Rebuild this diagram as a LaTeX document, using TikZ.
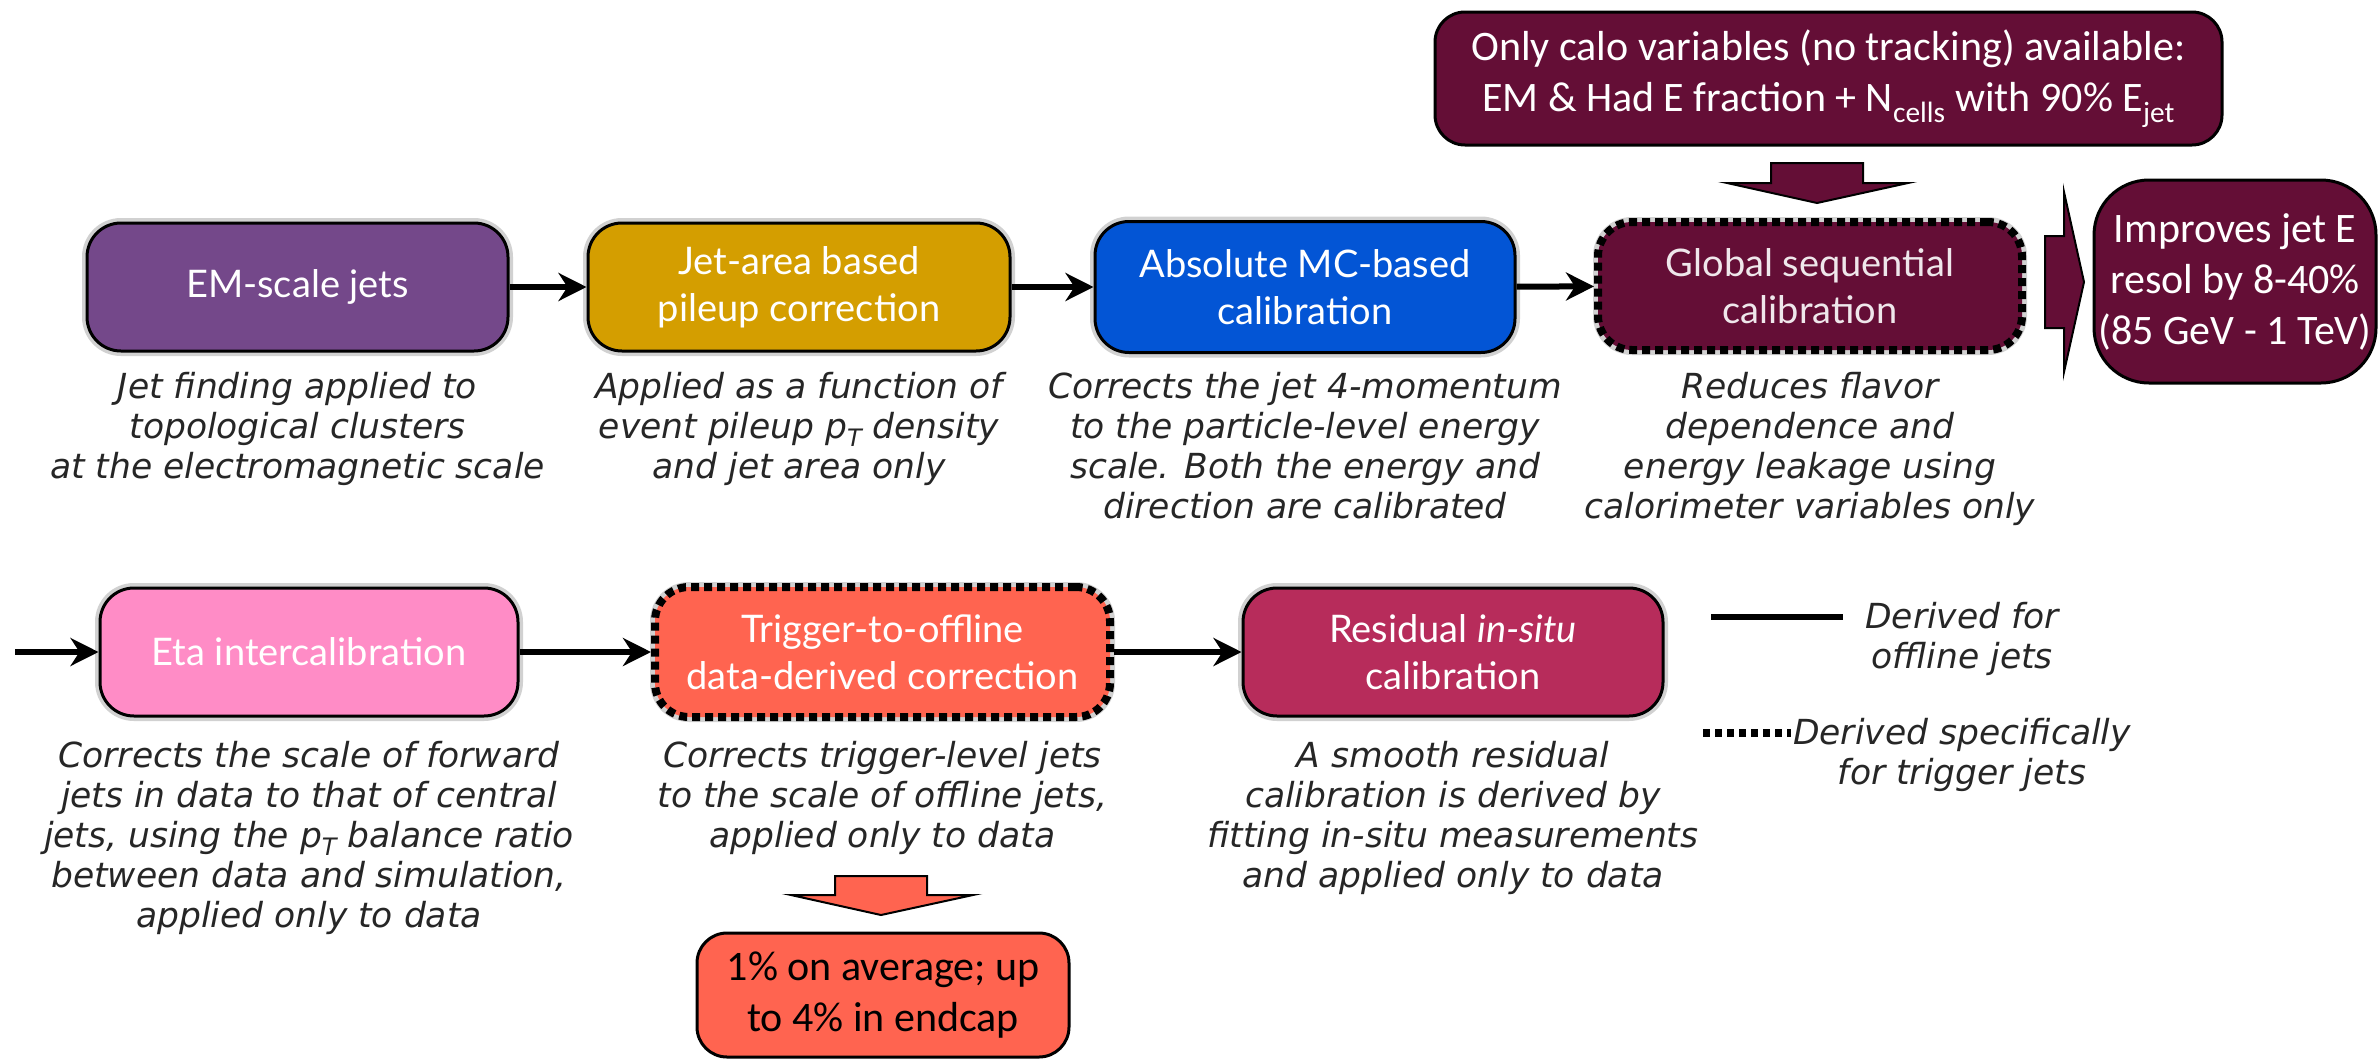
\documentclass[tikz,border=0pt]{standalone}
\usepackage{fontspec}
\setmainfont{Lato}
\newfontfamily\descfont{DejaVu Sans}
\newfontfamily\califont{Carlito}
\usetikzlibrary{arrows.meta}
\definecolor{emc}{RGB}{116,72,138}
\definecolor{jac}{RGB}{212,158,0}
\definecolor{absc}{RGB}{3,85,213}
\definecolor{gscc}{RGB}{100,14,54}
\definecolor{etac}{RGB}{255,140,198}
\definecolor{trigc}{RGB}{255,100,80}
\definecolor{resc}{RGB}{183,44,91}
\definecolor{desccol}{RGB}{38,38,38}
\newcommand\pTsym{p\raisebox{-0.22em}{\fontsize{24}{24}\selectfont T}}
\begin{document}
\begin{tikzpicture}[x=1pt,y=-1pt,
  stagebox/.style={draw=black, line width=3pt, rounded corners=34pt,
    minimum width=420pt, minimum height=128pt, inner sep=0pt, align=center,
    text=white, font=\fontsize{38}{47}\selectfont,
    preaction={draw=black, solid, opacity=0.18, line width=10pt}},
  dotbox/.style={stagebox, line width=8pt, dash pattern=on 8pt off 5pt},
  desc/.style={font=\descfont\itshape\fontsize{34.5}{40}\selectfont, text=desccol,
    align=center, anchor=north, inner sep=0pt},
  callout/.style={draw=black, line width=3pt, rounded corners=30pt,
    inner sep=0pt, align=center, text=white,
    font=\califont\fontsize{42}{51}\selectfont},
  arr/.style={line width=6pt, -{Stealth[length=28pt,width=28pt,inset=9pt]}},
  blockarrow/.style={draw=black, line width=2pt, line join=miter}
]
\useasboundingbox (0,0) rectangle (2379,1060);

% row 1
\node[stagebox, fill=emc, minimum width=421pt] (em) at (297.5,287) {EM-scale jets};
\node[stagebox, fill=jac, minimum width=422pt] (ja) at (799,287) {Jet-area based\\pileup correction};
\node[stagebox, fill=absc, minimum height=131pt] (abs) at (1305,287) {Absolute MC-based\\calibration};
\node[dotbox, fill=gscc, minimum width=424pt, text=white!90!gscc] (gsc) at (1810,286) {Global sequential\\calibration};

\draw[arr] (em) -- (ja);
\draw[arr] (ja) -- (abs);
\draw[arr] (abs) -- (gsc);

\node[desc] (d1) at (297.5,372) {Jet finding applied to\\topological clusters\\at the electromagnetic scale};
\node[desc] (d2) at (799,372) {Applied as a function of\\event pileup \pTsym{} density\\and jet area only};
\node[desc] (d3) at (1305,372) {Corrects the jet 4-momentum\\to the particle-level energy\\scale. Both the energy and\\direction are calibrated};
\node[desc] (d4) at (1810,372) {Reduces flavor\\dependence and\\energy leakage using\\calorimeter variables only};

% callouts top right
\node[callout, fill=gscc, minimum width=787pt, minimum height=133pt] (calo) at (1828.5,78.5)
  {Only calo variables (no tracking) available:\\EM \& Had E fraction + N\textsubscript{cells} with 90\% E\textsubscript{jet}};
\node[callout, fill=gscc, rounded corners=55pt, minimum width=282pt, minimum height=203pt] (impr) at (2235,281.5)
  {Improves jet E\\resol by 8-40\%\\(85 GeV - 1 TeV)};

\draw[blockarrow, fill=gscc] (1771,163) -- (1863,163) -- (1863,183) -- (1908,183) -- (1817,203)
  -- (1727,183) -- (1771,183) -- cycle;
\draw[blockarrow, fill=gscc] (2045,236) -- (2064,236) -- (2064,192) -- (2084,282) -- (2064,372)
  -- (2064,328) -- (2045,328) -- cycle;

% row 2
\coordinate (start2) at (15,652);
\node[stagebox, fill=etac, minimum width=418pt] (eta) at (309,652) {Eta intercalibration};
\node[dotbox, fill=trigc, minimum width=455pt, minimum height=130pt] (trig) at (882.5,652) {Trigger-to-offline\\data-derived correction};
\node[stagebox, fill=resc] (res) at (1453,652) {Residual \textit{in-situ}\\calibration};

\draw[arr] (start2) -- (eta);
\draw[arr] (eta) -- (trig);
\draw[arr] (trig) -- (res);

\node[desc] (d5) at (309,741) {Corrects the scale of forward\\jets in data to that of central\\jets, using the \pTsym{} balance ratio\\between data and simulation,\\applied only to data};
\node[desc] (d6) at (882.5,741) {Corrects trigger-level jets\\to the scale of offline jets,\\applied only to data};
\node[desc] (d7) at (1453,741) {A smooth residual\\calibration is derived by\\fitting in-situ measurements\\and applied only to data};

\draw[blockarrow, fill=trigc] (835,876) -- (927,876) -- (927,895) -- (973,895) -- (881,915)
  -- (791,895) -- (835,895) -- cycle;
\node[callout, fill=trigc, text=black, minimum width=372pt, minimum height=124pt] (onepct) at (883,995)
  {1\% on average; up\\to 4\% in endcap};

% legend
\coordinate (l1a) at (1711,617);
\coordinate (l1b) at (1843,617);
\coordinate (l2a) at (1703,733);
\coordinate (l2b) at (1791,733);
\draw[line width=6pt] (l1a) -- (l1b);
\draw[line width=8pt, dash pattern=on 7pt off 5pt] (l2a) -- (l2b);
\node[desc] (leg1) at (1962,602) {Derived for\\offline jets};
\node[desc] (leg2) at (1962,718) {Derived specifically\\for trigger jets};
\end{tikzpicture}
\end{document}
